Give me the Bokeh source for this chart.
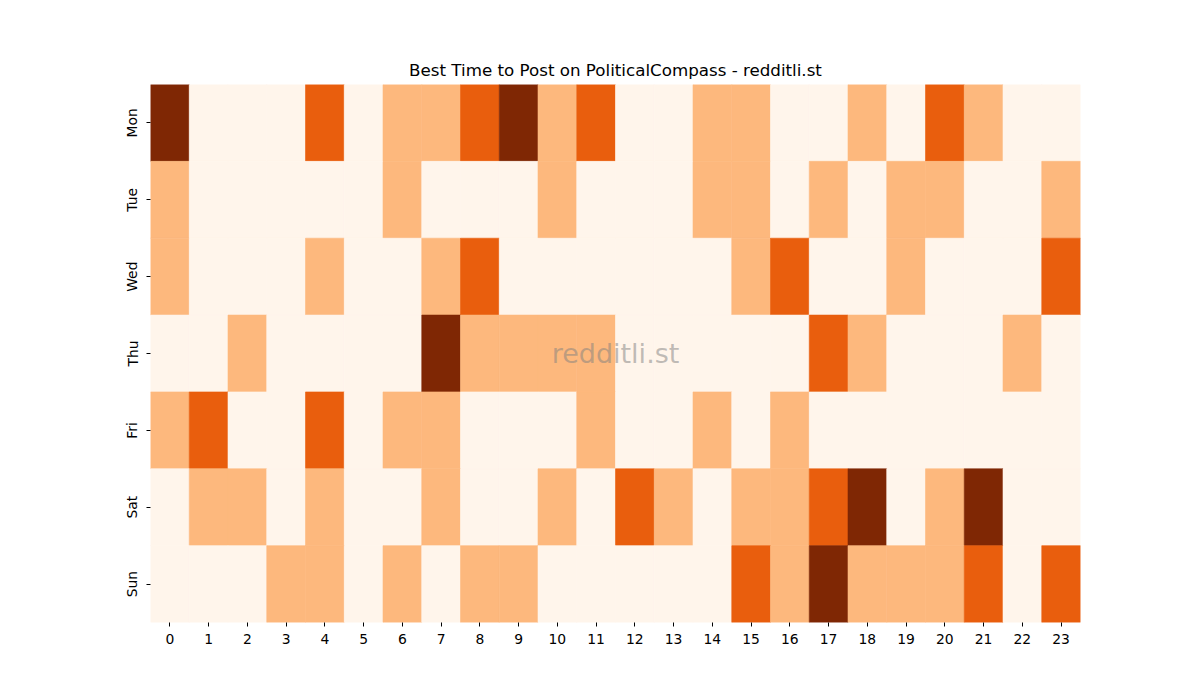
from bokeh.plotting import figure
from bokeh.models import ColumnDataSource, FactorRange, Range1d, FixedTicker, Label
from bokeh.embed import file_html
from bokeh.resources import INLINE

days = ["Mon", "Tue", "Wed", "Thu", "Fri", "Sat", "Sun"]
hours = list(range(24))
mon = [3,0,0,0,2,0,1,1,2,3,1,2,0,0,1,1,0,0,1,0,2,1,0,0]
tue = [1,0,0,0,0,0,1,0,0,0,1,0,0,0,1,1,0,1,0,1,1,0,0,1]
wed = [1,0,0,0,1,0,0,1,2,0,0,0,0,0,0,1,2,0,0,1,0,0,0,2]
thu = [0,0,1,0,0,0,0,3,1,1,1,1,0,0,0,0,0,2,1,0,0,0,1,0]
fri = [1,2,0,0,2,0,1,1,0,0,0,1,0,0,1,0,1,0,0,0,0,0,0,0]
sat = [0,1,1,0,1,0,0,1,0,0,1,0,2,1,0,1,1,2,3,0,1,3,0,0]
sun = [0,0,0,1,1,0,1,0,1,1,0,0,0,0,0,2,1,3,1,1,1,2,0,2]
rows = [mon, tue, wed, thu, fri, sat, sun]
palette = ["#fff5eb", "#fdb87d", "#e95e0d", "#7f2704"]

xs, ys, cs = [], [], []
for d, row in zip(days, rows):
    for h, v in zip(hours, row):
        xs.append(h)
        ys.append(d)
        cs.append(palette[v])
src = ColumnDataSource(dict(x=xs, y=ys, c=cs))

p = figure(frame_width=930, frame_height=538,
           x_range=Range1d(-0.5, 23.5),
           y_range=FactorRange(factors=list(reversed(days)), range_padding=0),
           output_backend="svg", toolbar_location=None,
           min_border_left=150, min_border_right=120,
           min_border_top=84, min_border_bottom=78)
p.rect(x="x", y="y", width=1, height=1, fill_color="c", line_color="c",
       line_width=0.6, source=src)

p.title.text = "Best Time to Post on PoliticalCompass - redditli.st"
p.title.align = "center"
p.title.text_font = "DejaVu Sans"
p.title.text_font_size = "16.7px"
p.title.text_font_style = "normal"
p.title.text_color = "black"
p.title.standoff = 9

p.xaxis.ticker = FixedTicker(ticks=hours)
p.xaxis.minor_tick_line_color = None
for ax in (p.xaxis[0], p.yaxis[0]):
    ax.axis_line_color = None
    ax.major_tick_in = 0
    ax.major_tick_out = 4
    ax.major_tick_line_color = "black"
    ax.major_label_text_font = "DejaVu Sans"
    ax.major_label_text_font_size = "13.9px"
    ax.major_label_text_color = "black"
p.xaxis.major_label_standoff = 7
p.yaxis.major_label_standoff = 6
p.yaxis.major_label_orientation = "vertical"
p.xgrid.grid_line_color = None
p.ygrid.grid_line_color = None
p.outline_line_color = None

wm = Label(x=11.5, y=3.5, x_units="data", text="redditli.st",
           text_align="center", text_baseline="middle",
           text_font="DejaVu Sans", text_font_size="27px",
           text_color="gray", text_alpha=0.5)
p.add_layout(wm)

open("out.html", "w").write(file_html(p, INLINE))
